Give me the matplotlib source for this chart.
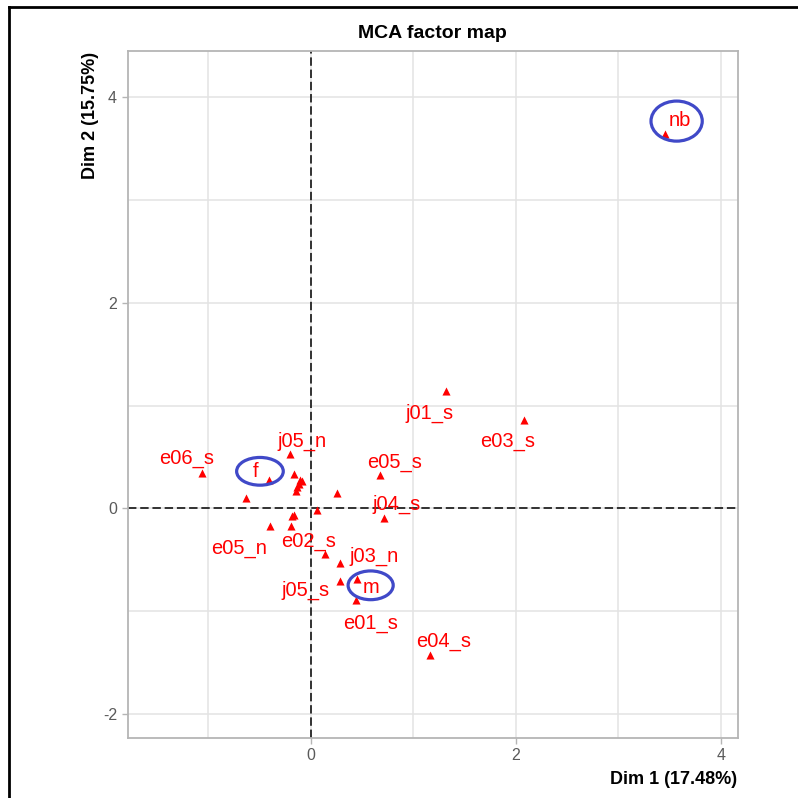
import matplotlib
matplotlib.use("Agg")
import matplotlib.pyplot as plt
from matplotlib.patches import Ellipse
from matplotlib.lines import Line2D

plt.rcParams['font.family'] = ['Liberation Sans', 'DejaVu Sans']
plt.rcParams['axes.unicode_minus'] = False

# category coordinates (Dim 1, Dim 2)
dim1 = [-1.06, -0.41, -0.205, -0.16, -0.10, -0.08, -0.11, -0.13, -0.14, 0.26,
        -0.63, 0.06, 0.68, 0.715, -0.16, -0.18, -0.40, -0.195, 0.137, 0.29,
        0.29, 0.455, 0.445, 1.32, 2.08, 1.16, 3.46]
dim2 = [0.34, 0.28, 0.53, 0.33, 0.28, 0.27, 0.24, 0.21, 0.17, 0.15,
        0.10, -0.02, 0.32, -0.09, -0.07, -0.08, -0.17, -0.17, -0.45, -0.53,
        -0.71, -0.69, -0.89, 1.14, 0.86, -1.43, 3.64]

# labels that are shown, with their text positions
lab_text = ["e06_s", "f", "j05_n", "e05_s", "j04_s", "e05_n", "e02_s", "j03_n",
            "j05_s", "m", "e01_s", "j01_s", "e03_s", "e04_s", "nb"]
lab_x = [-1.21, -0.54, -0.08, 0.82, 0.84, -0.70, -0.02, 0.62,
         -0.05, 0.59, 0.585, 1.155, 1.925, 1.30, 3.60]
lab_y = [0.48, 0.36, 0.65, 0.45, 0.04, -0.39, -0.32, -0.47,
         -0.80, -0.77, -1.125, 0.92, 0.65, -1.30, 3.78]

# hand-drawn highlight ellipses: centre, width, height
ell_x = [-0.495, 0.585, 3.57]
ell_y = [0.36, -0.75, 3.77]
ell_w = [0.455, 0.44, 0.50]
ell_h = [0.27, 0.28, 0.39]

fig = plt.figure(figsize=(7.98, 7.98), dpi=100)
ax = fig.add_axes([0.1598, 0.0758, 0.7644, 0.8597])

ax.set_xlim(-1.787, 4.164)
ax.set_ylim(-2.232, 4.448)
ax.set_xticks([0, 2, 4])
ax.set_yticks([-2, 0, 2, 4])
ax.set_xticks([-1, 1, 3], minor=True)
ax.set_yticks([-1, 1, 3], minor=True)
ax.grid(True, which='both', color='#e3e3e3', linewidth=1.1)
ax.set_axisbelow(True)
for s in ax.spines.values():
    s.set_color('#b5b5b5')
    s.set_linewidth(1.3)
ax.tick_params(which='major', colors='#b5b5b5', labelcolor='#5a5a5a',
               length=4, width=1, labelsize=11.5)
ax.tick_params(which='minor', length=0)

ax.axhline(0, color='black', linestyle=(0, (5.5, 2.5)), linewidth=1.1, zorder=2)
ax.axvline(0, color='black', linestyle=(0, (5.5, 2.5)), linewidth=1.1, zorder=2)

ax.scatter(dim1, dim2, marker='^', s=34, color='red', linewidths=0, zorder=3)
for t, x, y in zip(lab_text, lab_x, lab_y):
    ax.text(x, y, t, color='red', fontsize=14.5, ha='center', va='center', zorder=4)

for x, y, w, h in zip(ell_x, ell_y, ell_w, ell_h):
    ax.add_patch(Ellipse((x, y), w, h, fill=False, edgecolor='#4049c8',
                         linewidth=2.3, zorder=5))

ax.set_title("MCA factor map", fontsize=14, fontweight='bold', pad=10)
ax.set_xlabel("Dim 1 (17.48%)", fontsize=13, fontweight='bold', loc='right',
              labelpad=6)
ax.set_ylabel("Dim 2 (15.75%)", fontsize=13, fontweight='bold', loc='top',
              labelpad=3)

# screenshot frame
fig.add_artist(Line2D([9 / 798, 9 / 798], [0, 1 - 7 / 798], color='black', linewidth=2))
fig.add_artist(Line2D([9 / 798, 1], [1 - 7 / 798, 1 - 7 / 798], color='black', linewidth=2))

fig.savefig("out.png", dpi=100)
